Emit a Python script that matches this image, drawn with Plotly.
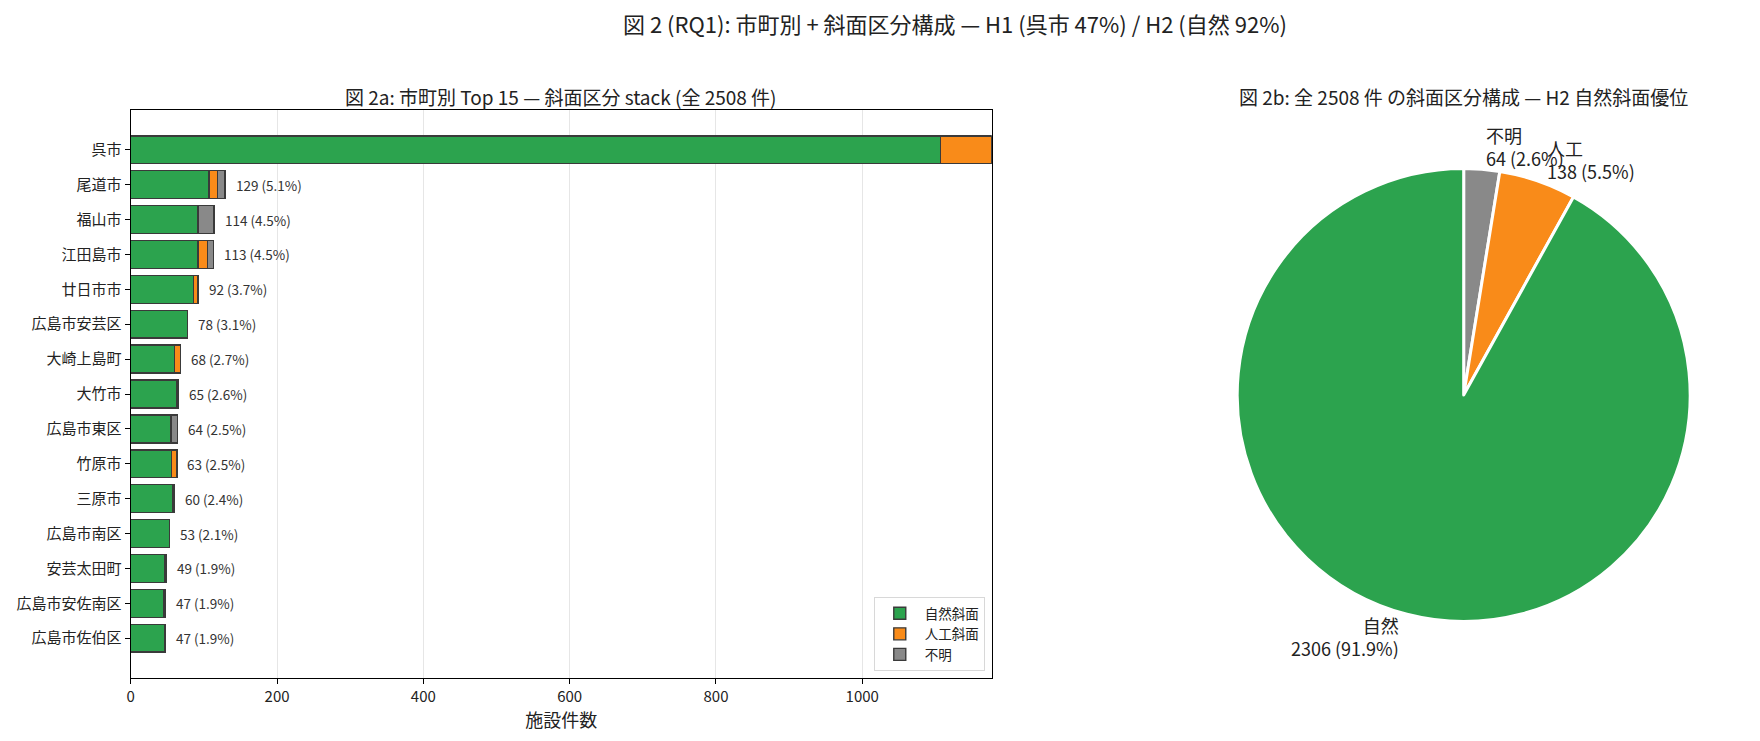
import numpy as np
import plotly.graph_objects as go

# data
cities = ["呉市", "尾道市", "福山市", "江田島市", "廿日市市", "広島市安芸区", "大崎上島町",
          "大竹市", "広島市東区", "竹原市", "三原市", "広島市南区", "安芸太田町",
          "広島市安佐南区", "広島市佐伯区"]
natural = [1107, 107, 92, 92, 86, 78, 60, 63, 54, 56, 57, 53, 47, 45, 47]
artificial = [70, 12, 0, 13, 6, 0, 8, 0, 2, 7, 1, 0, 0, 0, 0]
unknown = [0, 10, 22, 8, 0, 0, 0, 2, 8, 0, 2, 0, 2, 2, 0]
share_pct = [46.9, 5.1, 4.5, 4.5, 3.7, 3.1, 2.7, 2.6, 2.5, 2.5, 2.4, 2.1, 1.9, 1.9, 1.9]
total_all = 2508

slope_labels = ["自然", "人工", "不明"]
slope_counts = [2306, 138, 64]

x_ticks = [0, 200, 400, 600, 800, 1000]

GREEN = "#2ca34e"
ORANGE = "#f98b19"
GRAY = "#898989"
EDGE = "#3a3a3a"
FONT = "Noto Sans CJK JP"

# page is 1760x741, the html body adds an 8px margin
OFF = 8
W, H = 1760 - OFF, 741 - OFF


def fx(px):
    return (px - OFF) / W


def fy(py):
    return 1 - (py - OFF) / H


totals = [a + b + c for a, b, c in zip(natural, artificial, unknown)]
xmax = max(totals)

fig = go.Figure()
for name, vals, col in [("自然斜面", natural, GREEN),
                        ("人工斜面", artificial, ORANGE),
                        ("不明", unknown, GRAY)]:
    fig.add_trace(go.Bar(
        y=cities, x=vals, name=name, orientation="h",
        marker=dict(color=col, line=dict(color=EDGE, width=1.4)),
        xaxis="x", yaxis="y"))

# bar axes area in page pixels
ax_l, ax_r, ax_t, ax_b = 127, 990, 110, 678
n = len(cities)
pad = 0.74  # matplotlib style margin in category units

fig.update_layout(
    width=W, height=H,
    margin=dict(l=0, r=0, t=0, b=0),
    paper_bgcolor="white", plot_bgcolor="white",
    font=dict(family=FONT, color="#222", size=13),
    barmode="stack", bargap=0.2,
    xaxis=dict(domain=[fx(ax_l), fx(ax_r)], range=[0, xmax],
               tickvals=x_ticks, showgrid=True, gridcolor="#e6e6e6",
               zeroline=False, showline=True, linecolor="black", linewidth=1.2,
               mirror=True, ticks="outside", ticklen=5, tickcolor="black",
               tickfont=dict(size=15),
               title=dict(text="施設件数", font=dict(size=18), standoff=4)),
    yaxis=dict(domain=[fy(ax_b), fy(ax_t)],
               range=[n - 1 + 0.4 + pad, -0.4 - pad],
               showgrid=False, zeroline=False, showline=True, linecolor="black",
               linewidth=1.2, mirror=True, ticks="outside", ticklen=5,
               tickcolor="black", tickfont=dict(size=15)),
    legend=dict(x=fx(ax_r - 7), y=fy(ax_b - 7), xanchor="right",
                yanchor="bottom", traceorder="normal", bgcolor="white",
                bordercolor="#d8d8d8", borderwidth=1, font=dict(size=13.5),
                itemwidth=40),
)

annotations = []
for c, t, p in zip(cities, totals, share_pct):
    annotations.append(dict(
        x=t + xmax * 0.01, y=c, xref="x", yref="y", xanchor="left",
        yanchor="middle", showarrow=False,
        text=f"{t} ({p:.1f}%)",
        font=dict(size=13.5, color="#333")))

# pie: first slice from 12 o'clock going counter-clockwise (drawn as reversed clockwise)
cx, cy, R = 1463, 395, 227
fig.add_trace(go.Pie(
    labels=slope_labels[::-1], values=slope_counts[::-1], sort=False,
    direction="clockwise", rotation=0,
    marker=dict(colors=[GREEN, ORANGE, GRAY][::-1], line=dict(color="white", width=3)),
    textinfo="none", showlegend=False,
    domain=dict(x=[fx(cx - R), fx(cx + R)], y=[fy(cy + R), fy(cy - R)])))

pie_total = sum(slope_counts)
cum = 0
for lab, v in zip(slope_labels, slope_counts):
    ang = np.deg2rad(90 + 360 * (cum + v / 2) / pie_total)
    cum += v
    px = cx + 1.1 * R * np.cos(ang)
    py = cy - 1.1 * R * np.sin(ang)
    side = "left" if np.cos(ang) > 0 else "right"
    annotations.append(dict(
        x=fx(px), y=fy(py), xref="paper", yref="paper",
        xanchor=side, yanchor="middle", align=side, showarrow=False,
        text=f"{lab}<br>{v} ({v / pie_total * 100:.1f}%)",
        font=dict(size=18, color="#222")))

# titles
annotations.append(dict(x=fx(953), y=fy(23), xref="paper", yref="paper",
                        showarrow=False, xanchor="center", yanchor="middle",
                        borderpad=0,
                        text="図 2 (RQ1): 市町別 + 斜面区分構成 — H1 (呉市 47%) / H2 (自然 92%)",
                        font=dict(size=22)))
annotations.append(dict(x=fx((ax_l + ax_r) / 2), y=fy(96), xref="paper", yref="paper",
                        showarrow=False, xanchor="center", yanchor="middle",
                        text=f"図 2a: 市町別 Top 15 — 斜面区分 stack (全 {total_all} 件)",
                        font=dict(size=19)))
annotations.append(dict(x=fx(cx), y=fy(96), xref="paper", yref="paper",
                        showarrow=False, xanchor="center", yanchor="middle",
                        text=f"図 2b: 全 {pie_total} 件 の斜面区分構成 — H2 自然斜面優位",
                        font=dict(size=19)))

fig.update_layout(annotations=annotations)

fig.write_html("out.html")
